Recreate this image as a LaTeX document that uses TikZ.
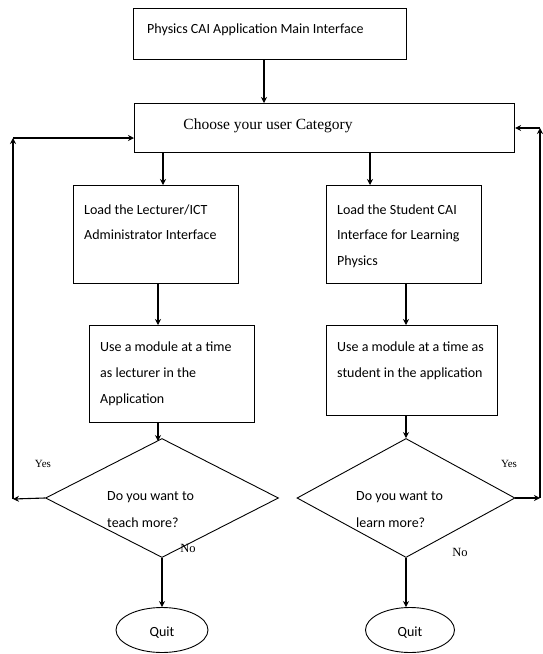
\documentclass[tikz,border=0pt]{standalone}
\usepackage{fontspec}
\setmainfont{Liberation Serif}
\newfontfamily\calib{Carlito}
\usetikzlibrary{shapes.geometric,arrows.meta,calc}
\begin{document}
\begin{tikzpicture}[x=1pt,y=-1pt,
  box/.style={draw, line width=1.1pt, inner sep=0pt, anchor=north west},
  dec/.style={draw, diamond, line width=0.9pt, inner sep=0pt},
  term/.style={draw, ellipse, line width=0.9pt, inner sep=0pt},
  txt/.style={font=\calib\fontsize{14}{17}\selectfont, inner sep=0pt, anchor=base west},
  lbl/.style={font=\fontsize{11}{13}\selectfont, inner sep=0pt, anchor=base},
  arr/.style={line width=1.1pt, -{Stealth[length=6pt,width=6pt]}},
  ln/.style={line width=1.1pt}]
\useasboundingbox (0,0) rectangle (542,654);
% boxes
\node[box, minimum width=273pt, minimum height=51pt] (top) at (133,8) {};
\node[box, minimum width=380pt, minimum height=49pt] (choose) at (134,103) {};
\node[box, minimum width=165pt, minimum height=98pt] (loadl) at (73,185) {};
\node[box, minimum width=155pt, minimum height=98pt] (loads) at (326,185) {};
\node[box, minimum width=165pt, minimum height=97pt] (usel) at (89,325) {};
\node[box, minimum width=171pt, minimum height=90pt] (uses) at (326,325) {};
\node[dec, minimum width=233pt, minimum height=119pt] (ld) at (162,498) {};
\node[dec, minimum width=218pt, minimum height=119pt] (rd) at (406,498) {};
\node[term, minimum width=92pt, minimum height=45pt] (lq) at (162,630) {};
\node[term, minimum width=89pt, minimum height=45pt] (rq) at (410,630) {};
% texts
\node[txt] (t1) at (147,33) {Physics CAI Application Main Interface};
\node[font=\fontsize{15.5}{18}\selectfont, inner sep=0pt, anchor=base] (t2) at (268,129) {Choose your user Category};
\node[txt] (t3a) at (84,214) {Load the Lecturer/ICT};
\node[txt] (t3b) at (84,239) {Administrator Interface};
\node[txt] (t4a) at (337,214) {Load the Student CAI};
\node[txt] (t4b) at (337,239) {Interface for Learning};
\node[txt] (t4c) at (337,265) {Physics};
\node[txt] (t5a) at (100,351) {Use a module at a time};
\node[txt] (t5b) at (100,377) {as lecturer in the};
\node[txt] (t5c) at (100,403) {Application};
\node[txt] (t6a) at (337,351) {Use a module at a time as};
\node[txt] (t6b) at (337,377) {student in the application};
\node[txt] (t7a) at (107,500) {Do you want to};
\node[txt] (t7b) at (107,527) {teach more?};
\node[txt] (t8a) at (356,500) {Do you want to};
\node[txt] (t8b) at (356,527) {learn more?};
\node[txt, anchor=base] (q1) at (162,636) {Quit};
\node[txt, anchor=base] (q2) at (410,636) {Quit};
\node[lbl] (y1) at (43,467) {Yes};
\node[lbl] (y2) at (509,467) {Yes};
\node[lbl, font=\fontsize{12.5}{14}\selectfont] (n1) at (188,552) {No};
\node[lbl, font=\fontsize{12.5}{14}\selectfont] (n2) at (460,556) {No};
% coordinates
\coordinate (xa) at (264,0);
\coordinate (xl1) at (163,0);
\coordinate (xr1) at (370,0);
\coordinate (xl2) at (158,0);
\coordinate (xr2) at (406,0);
\coordinate (yl) at (13,499);
\coordinate (ylt) at (13,138);
\coordinate (yr) at (540,498);
\coordinate (yrt) at (540,128);
% connectors
\draw[arr] (top.south -| xa) -- (choose.north -| xa);
\draw[arr] (choose.south -| xl1) -- (loadl.north -| xl1);
\draw[arr] (choose.south -| xr1) -- (loads.north -| xr1);
\draw[arr] (loadl.south -| xl2) -- (usel.north -| xl2);
\draw[arr] (loads.south -| xr2) -- (uses.north -| xr2);
\draw[arr] (usel.south -| xl2) -- ($(ld.north -| xl2)+(0,3)$);
\draw[arr] (uses.south -| xr2) -- (rd.north);
\draw[arr] (ld.south) -- (lq.north);
\draw[arr] (rd.south) -- (rd.south |- rq.north);
\draw[arr] (ld.west) -- (yl);
\draw[arr] (yl) -- (ylt);
\draw[arr] (ylt) -- (choose.west |- ylt);
\draw[arr] (rd.east) -- (yr);
\draw[arr] (yr) -- (yrt);
\draw[arr] (yrt) -- (choose.east |- yrt);
\end{tikzpicture}
\end{document}
